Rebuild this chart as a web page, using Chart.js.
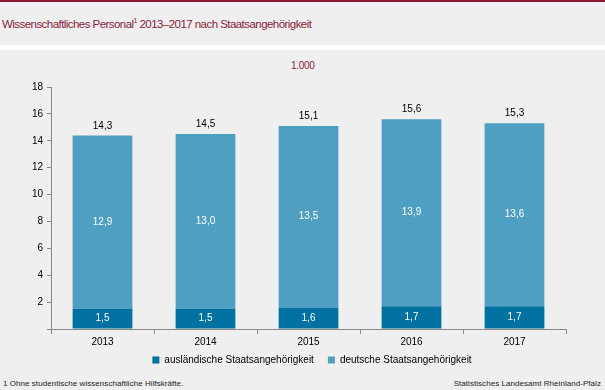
<!DOCTYPE html>
<html><head><meta charset="utf-8">
<script src="https://cdn.jsdelivr.net/npm/chart.js@4/dist/chart.umd.min.js"></script>
<style>
html,body{margin:0;padding:0;}
body{width:605px;height:390px;background:#eeefee;position:relative;overflow:hidden;font-family:"Liberation Sans",Arial,sans-serif;}
#topbar{position:absolute;left:0;top:0;width:605px;height:2px;background:#861a33;}
#sep{position:absolute;left:0;top:45px;width:605px;height:5px;background:#ffffff;}
#title{position:absolute;left:2px;top:17px;font-size:11.5px;color:#8b1c3a;letter-spacing:-0.55px;white-space:nowrap;}
#title sup{font-size:7px;vertical-align:5px;}
#unit{position:absolute;left:291px;top:60px;font-size:10px;color:#8b1c3a;letter-spacing:-0.3px;}
#foot{position:absolute;left:3px;top:379px;font-size:8px;letter-spacing:0.05px;color:#222;white-space:nowrap;}
#src{position:absolute;right:4px;top:379px;font-size:8px;letter-spacing:0.05px;color:#222;white-space:nowrap;}
canvas{position:absolute;left:0;top:0;}
</style></head>
<body>
<div id="topbar"></div>
<div id="sep"></div>
<div id="title">Wissenschaftliches Personal<sup>1</sup> 2013–2017 nach Staatsangehörigkeit</div>
<div id="unit">1.000</div>
<div id="foot">1 Ohne studentische wissenschaftliche Hilfskräfte.</div>
<div id="src">Statistisches Landesamt Rheinland-Pfalz</div>
<canvas id="c" width="605" height="390"></canvas>
<script>
const years = ['2013','2014','2015','2016','2017'];
const auslaendisch = [1.5, 1.5, 1.6, 1.7, 1.7];
const deutsch = [12.9, 13.0, 13.5, 13.9, 13.6];
const totals = [14.3, 14.5, 15.1, 15.6, 15.3];
const yTicks = [0,2,4,6,8,10,12,14,16,18];

const fmt = v => v.toFixed(1).replace('.', ',');

const labelPlugin = {
  id: 'labels',
  afterLayout(chart) {
    if (chart.legend) {
      chart.legend.top -= 6; chart.legend.bottom -= 6;
      chart.legend.left += 29; chart.legend.right += 29;
    }
  },
  afterDatasetsDraw(chart) {
    const ctx = chart.ctx;
    ctx.save();
    ctx.font = '10px "Liberation Sans", Arial, sans-serif';
    ctx.textAlign = 'center';
    ctx.textBaseline = 'middle';
    chart.data.datasets.forEach((ds, di) => {
      const meta = chart.getDatasetMeta(di);
      meta.data.forEach((bar, i) => {
        const top = bar.y, bottom = bar.base;
        ctx.fillStyle = '#ffffff';
        ctx.fillText(fmt(ds.data[i]), bar.x, (top + bottom) / 2);
      });
    });
    const lastMeta = chart.getDatasetMeta(chart.data.datasets.length - 1);
    const yScale = chart.scales.y;
    ctx.fillStyle = '#000000';
    lastMeta.data.forEach((bar, i) => {
      ctx.fillText(fmt(totals[i]), bar.x, yScale.getPixelForValue(totals[i]) - 10);
    });
    ctx.restore();
  }
};

new Chart(document.getElementById('c'), {
  type: 'bar',
  data: {
    labels: years,
    datasets: [
      { label: 'ausländische Staatsangehörigkeit', data: auslaendisch, backgroundColor: '#0071a0', barPercentage: 0.58, categoryPercentage: 1 },
      { label: 'deutsche Staatsangehörigkeit', data: deutsch, backgroundColor: '#4f9fc2', barPercentage: 0.58, categoryPercentage: 1 }
    ]
  },
  options: {
    responsive: false,
    animation: false,
    devicePixelRatio: 1,
    layout: { padding: { top: 87, right: 39, bottom: 9, left: 0 } },
    plugins: {
      legend: {
        position: 'bottom',
        labels: {
          boxWidth: 7, boxHeight: 7, padding: 14,
          color: '#000',
          font: { family: '"Liberation Sans", Arial, sans-serif', size: 10 }
        }
      },
      tooltip: { enabled: false }
    },
    scales: {
      x: {
        stacked: true,
        border: { color: '#888888', width: 1 },
        grid: { display: true, drawOnChartArea: false, offset: true, tickLength: 5, color: '#888888' },
        ticks: { color: '#000', padding: 2, font: { family: '"Liberation Sans", Arial, sans-serif', size: 10 } },
        afterFit(s) { s.height = 18; }
      },
      y: {
        stacked: true,
        min: 0, max: 18,
        afterBuildTicks(s) { s.ticks = yTicks.map(v => ({ value: v })); },
        border: { color: '#888888', width: 1 },
        grid: { display: true, drawOnChartArea: false, tickLength: 4, color: '#888888' },
        ticks: {
          color: '#000', padding: 4,
          font: { family: '"Liberation Sans", Arial, sans-serif', size: 10 },
          callback: v => v === 0 ? '' : String(v)
        },
        afterFit(s) { s.width = 51; }
      }
    }
  },
  plugins: [labelPlugin]
});
</script>
</body></html>
